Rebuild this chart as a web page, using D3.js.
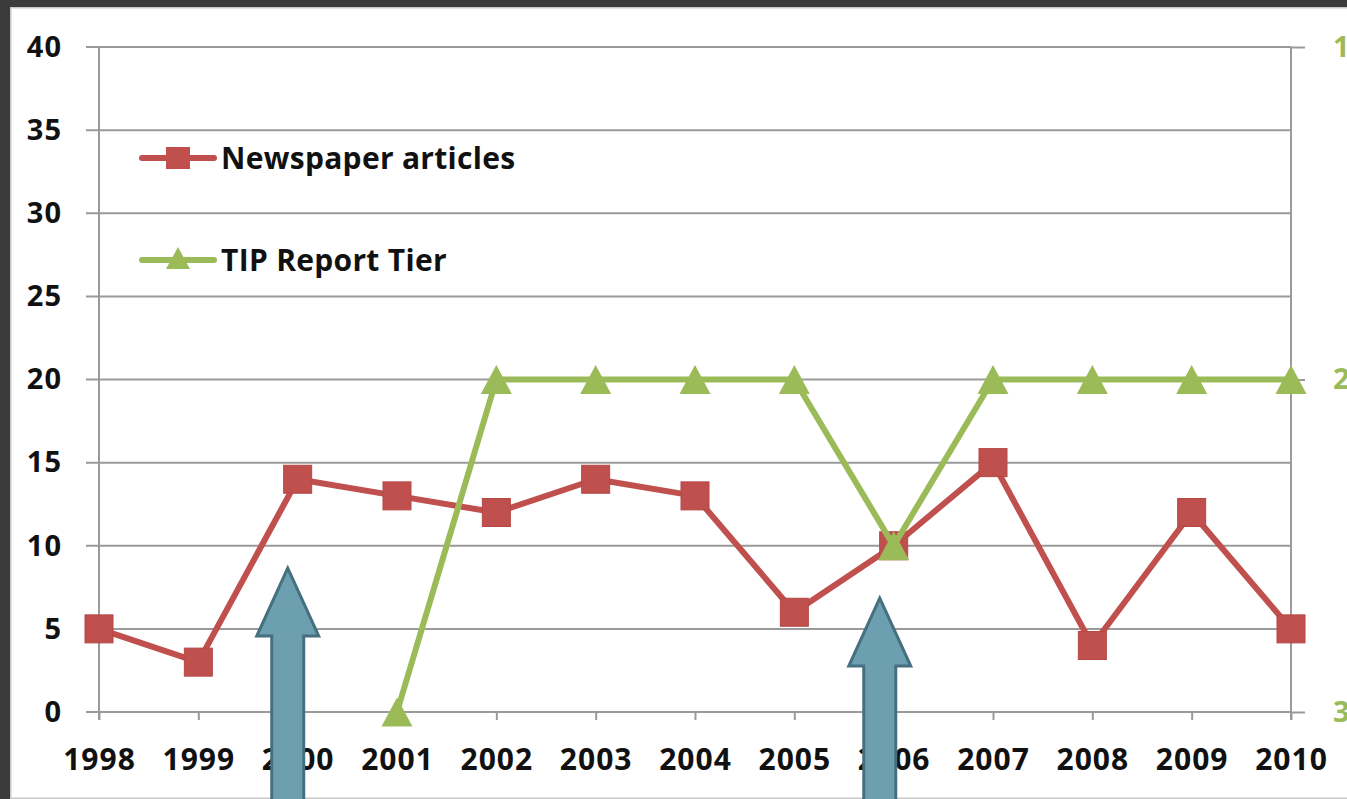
<!DOCTYPE html>
<html><head><meta charset="utf-8">
<script src="https://cdn.jsdelivr.net/npm/d3@7"></script>
<style>
html,body{margin:0;padding:0;background:#fff;overflow:hidden}
svg{display:block}
</style></head>
<body>
<svg id="c" width="1347" height="799"></svg>
<script>
const years = [1998,1999,2000,2001,2002,2003,2004,2005,2006,2007,2008,2009,2010];
const articles = [5,3,14,13,12,14,13,6,10,15,4,12,5];
const tipTier = [null,null,null,3,2,2,2,2,2.5,2,2,2,2];
const leftTicks = [0,5,10,15,20,25,30,35,40];
const rightTicks = [1,2,3];
const seriesNames = ["Newspaper articles","TIP Report Tier"];
const arrows = [{year:1999.9, tip:8.66}, {year:2005.86, tip:6.85}];

(function(){
const W=1347,H=799;
const svg=d3.select("#c");
const red="#c0504d", green="#9bbb59";
const font="'Open Sans', 'DejaVu Sans', sans-serif";

// frame
svg.append("rect").attr("x",0).attr("y",0).attr("width",W).attr("height",H).attr("fill","#3b3b3b");
svg.append("rect").attr("x",10).attr("y",7).attr("width",W-10).attr("height",H-7).attr("fill","#c8c8c8");
svg.append("rect").attr("x",11.5).attr("y",8.5).attr("width",W-11.5).attr("height",H-10).attr("fill","#fff");

const pL=99, pR=1291, pT=47, pB=712;
const x=d3.scalePoint().domain(years).range([pL,pR]);
const xc=d3.scaleLinear().domain([years[0],years[years.length-1]]).range([pL,pR]);
const y=d3.scaleLinear().domain([0,40]).range([pB,pT]);
const y2=d3.scaleLinear().domain([1,3]).range([pT,pB]);

// gridlines
svg.append("g").selectAll("line").data(leftTicks).join("line")
  .attr("x1",86).attr("x2",pR).attr("y1",d=>y(d)).attr("y2",d=>y(d))
  .attr("stroke","#9a9a9a").attr("stroke-width",2);

svg.append("line").attr("x1",pL).attr("x2",pL).attr("y1",pT).attr("y2",pB+8)
  .attr("stroke","#9a9a9a").attr("stroke-width",2);
svg.append("line").attr("x1",pR).attr("x2",pR).attr("y1",pT).attr("y2",pB+8)
  .attr("stroke","#9a9a9a").attr("stroke-width",2);

// x axis
const xAxis=svg.append("g").attr("transform",`translate(0,${pB})`)
  .call(d3.axisBottom(x).tickSize(8).tickPadding(30).tickSizeOuter(0));
xAxis.select(".domain").remove();
xAxis.selectAll(".tick line").attr("stroke","#9a9a9a").attr("stroke-width",2);
xAxis.selectAll(".tick text").attr("fill","#111").style("font-family",font)
  .style("font-weight","700").style("font-size","30px").attr("letter-spacing","1px")
  .attr("dy","0.32em").attr("y",48);

// left axis
const yAxis=svg.append("g").attr("transform",`translate(${pL},0)`)
  .call(d3.axisLeft(y).tickValues(leftTicks).tickSize(0).tickPadding(37));
yAxis.select(".domain").remove();
yAxis.selectAll(".tick text").attr("fill","#111").style("font-family",font)
  .style("font-weight","700").style("font-size","29px").attr("letter-spacing","1px");

// right axis
const yAxis2=svg.append("g").attr("transform",`translate(${pR},0)`)
  .call(d3.axisRight(y2).tickValues(rightTicks).tickSize(14).tickPadding(28).tickFormat(d3.format("d")));
yAxis2.select(".domain").remove();
yAxis2.selectAll(".tick line").attr("stroke","#9a9a9a").attr("stroke-width",2);
yAxis2.selectAll(".tick text").attr("fill",green).style("font-family",font)
  .style("font-weight","700").style("font-size","29px");

// newspaper line
const line=d3.line().x((d,i)=>x(years[i])).y(d=>y(d));
svg.append("path").datum(articles).attr("d",line).attr("fill","none")
  .attr("stroke",red).attr("stroke-width",6).attr("stroke-linejoin","round");
const sq=28;
svg.append("g").selectAll("rect").data(articles).join("rect")
  .attr("x",(d,i)=>x(years[i])-sq/2).attr("y",d=>y(d)-sq/2)
  .attr("width",sq).attr("height",sq).attr("fill",red).attr("stroke","#b54744").attr("stroke-width",1);

// tip line
const line2=d3.line().defined(d=>d!=null).x((d,i)=>x(years[i])).y(d=>y2(d));
svg.append("path").datum(tipTier).attr("d",line2).attr("fill","none")
  .attr("stroke",green).attr("stroke-width",6).attr("stroke-linejoin","round");
const triW=31, triH=29;
const tri=(cx,cy)=>`M${cx},${cy-triH/2}L${cx+triW/2},${cy+triH/2}L${cx-triW/2},${cy+triH/2}Z`;
svg.append("g").selectAll("path").data(tipTier.map((v,i)=>({v,i})).filter(d=>d.v!=null)).join("path")
  .attr("d",d=>tri(x(years[d.i]),y2(d.v))).attr("fill",green);

// legend
const leg=svg.append("g");
const legY=[158,260];
const legColors=[red,green];
seriesNames.forEach((name,k)=>{
  const ly=legY[k];
  leg.append("line").attr("x1",142).attr("x2",214).attr("y1",ly).attr("y2",ly)
    .attr("stroke",legColors[k]).attr("stroke-width",6).attr("stroke-linecap","round");
  if(k===0){
    leg.append("rect").attr("x",166).attr("y",ly-11).attr("width",24).attr("height",22).attr("fill",red);
  } else {
    leg.append("path").attr("d",`M178,${ly-13}L190,${ly+9}L166,${ly+9}Z`).attr("fill",green);
  }
  leg.append("text").attr("x",221).attr("y",ly+11).text(name).attr("letter-spacing","0.3px")
    .attr("fill","#111").style("font-family",font).style("font-weight","700").style("font-size","30px");
});

// annotation arrows
const aw=62, sw=32, headH=68;
arrows.forEach(a=>{
  const cx=xc(a.year), ty=y(a.tip);
  const hb=ty+headH;
  const p=`M${cx},${ty}L${cx+aw/2},${hb}L${cx+sw/2},${hb}L${cx+sw/2},${H+10}L${cx-sw/2},${H+10}L${cx-sw/2},${hb}L${cx-aw/2},${hb}Z`;
  svg.append("path").attr("d",p).attr("fill","#6c9fb0").attr("stroke","#466f7f").attr("stroke-width",3).attr("stroke-linejoin","miter");
});
})();
</script>
</body></html>
